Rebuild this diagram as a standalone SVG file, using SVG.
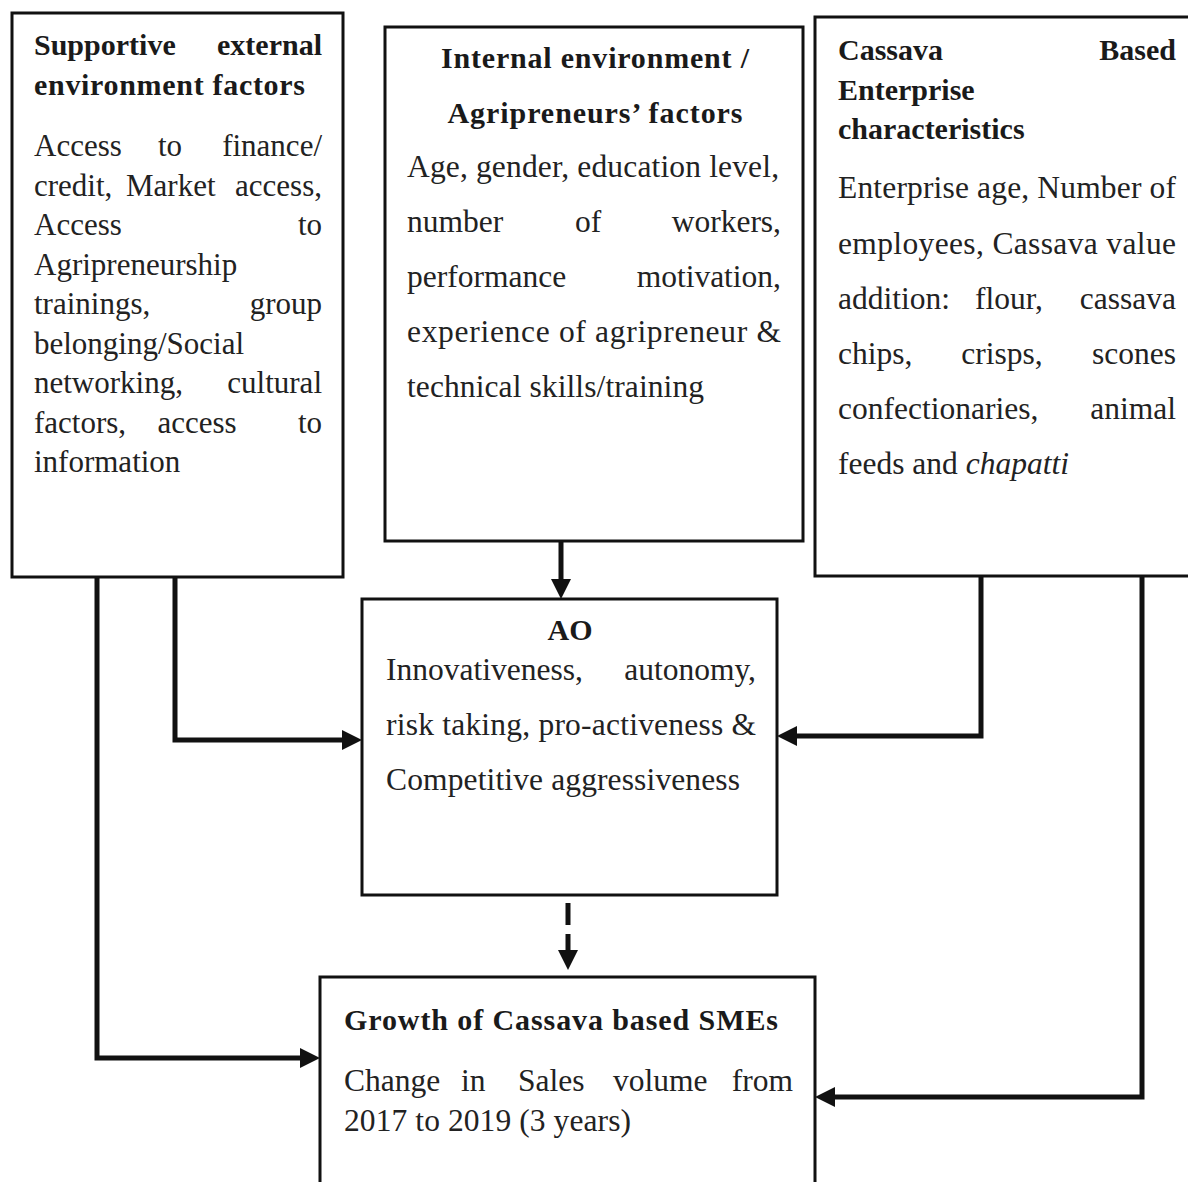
<svg xmlns="http://www.w3.org/2000/svg" width="1188" height="1182" viewBox="0 0 1188 1182">
<style>
.box{fill:#fff;stroke:#111;stroke-width:3}
.t{font-family:"Liberation Serif","Times New Roman",serif;font-size:31.5px;fill:#222}
.s{font-size:31px}
.h{font-family:"Liberation Serif","Times New Roman",serif;font-size:30px;font-weight:bold;fill:#1a1a1a}
.e{text-anchor:end}
.m{text-anchor:middle}
.c{fill:none;stroke:#111;stroke-width:5}
</style>
<defs>
<marker id="ah" viewBox="0 0 10 10" refX="5" refY="5" markerWidth="20" markerHeight="20" markerUnits="userSpaceOnUse" orient="auto">
<path d="M0,0 L10,5 L0,10 z" fill="#111"/>
</marker>
</defs>
<rect width="1188" height="1182" fill="#fff"/>

<g id="connectors">
<path class="c" d="M561,541 V589" marker-end="url(#ah)"/>
<path class="c" d="M175,577 V740 H352" marker-end="url(#ah)"/>
<path class="c" d="M97,577 V1058 H310" marker-end="url(#ah)"/>
<path class="c" d="M981,576 V736 H787" marker-end="url(#ah)"/>
<path class="c" d="M1142,576 V1097 H825" marker-end="url(#ah)"/>
<path class="c" d="M568,903 V925"/>
<path class="c" d="M568,934 V960" marker-end="url(#ah)"/>
</g>

<g id="node-supportive">
<rect class="box" x="12" y="13" width="331" height="564"/>
<text class="h" x="34" y="55">Supportive</text>
<text class="h e" x="322" y="55">external</text>
<text class="h" x="34" y="95" textLength="271" lengthAdjust="spacing">environment factors</text>
<text class="t s" x="34" y="156">Access</text><text class="t s m" x="170" y="156">to</text><text class="t s e" x="322" y="156">finance/</text>
<text class="t s" x="34" y="196">credit,</text><text class="t s" x="126" y="196">Market</text><text class="t s e" x="322" y="196">access,</text>
<text class="t s" x="34" y="235">Access</text><text class="t s e" x="322" y="235">to</text>
<text class="t s" x="34" y="275">Agripreneurship</text>
<text class="t s" x="34" y="314">trainings,</text><text class="t s e" x="322" y="314">group</text>
<text class="t s" x="34" y="354">belonging/Social</text>
<text class="t s" x="34" y="393">networking,</text><text class="t s e" x="322" y="393">cultural</text>
<text class="t s" x="34" y="433">factors,</text><text class="t s m" x="197" y="433">access</text><text class="t s e" x="322" y="433">to</text>
<text class="t s" x="34" y="472">information</text>
</g>

<g id="node-internal">
<rect class="box" x="385" y="27" width="418" height="514"/>
<text class="h m" x="595" y="68" textLength="308" lengthAdjust="spacing">Internal environment /</text>
<text class="h m" x="595" y="123" textLength="295" lengthAdjust="spacing">Agripreneurs’ factors</text>
<text class="t" x="407" y="177" textLength="372" lengthAdjust="spacing">Age, gender, education level,</text>
<text class="t" x="407" y="232">number</text><text class="t m" x="588" y="232">of</text><text class="t e" x="781" y="232">workers,</text>
<text class="t" x="407" y="287">performance</text><text class="t e" x="781" y="287">motivation,</text>
<text class="t" x="407" y="342" textLength="374" lengthAdjust="spacing">experience of agripreneur &amp;</text>
<text class="t" x="407" y="397" textLength="297" lengthAdjust="spacing">technical skills/training</text>
</g>

<g id="node-cassava">
<rect class="box" x="815" y="17" width="380" height="559"/>
<text class="h" x="838" y="60">Cassava</text>
<text class="h e" x="1176" y="60">Based</text>
<text class="h" x="838" y="100">Enterprise</text>
<text class="h" x="838" y="139">characteristics</text>
<text class="t" x="838" y="198" textLength="338" lengthAdjust="spacing">Enterprise age, Number of</text>
<text class="t" x="838" y="254" textLength="338" lengthAdjust="spacing">employees, Cassava value</text>
<text class="t" x="838" y="309">addition:</text><text class="t m" x="1009" y="309">flour,</text><text class="t e" x="1176" y="309">cassava</text>
<text class="t" x="838" y="364">chips,</text><text class="t m" x="1002" y="364">crisps,</text><text class="t e" x="1176" y="364">scones</text>
<text class="t" x="838" y="419">confectionaries,</text><text class="t e" x="1176" y="419">animal</text>
<text class="t" x="838" y="474">feeds and <tspan font-style="italic">chapatti</tspan></text>
</g>

<g id="node-ao">
<rect class="box" x="362" y="599" width="415" height="296"/>
<text class="h m" x="570" y="640">AO</text>
<text class="t" x="386" y="680">Innovativeness,</text><text class="t e" x="756" y="680">autonomy,</text>
<text class="t" x="386" y="735" textLength="370" lengthAdjust="spacing">risk taking, pro-activeness &amp;</text>
<text class="t" x="386" y="790" textLength="354" lengthAdjust="spacing">Competitive aggressiveness</text>
</g>

<g id="node-growth">
<rect class="box" x="320" y="977" width="495" height="215"/>
<text class="h" x="344" y="1030" textLength="434" lengthAdjust="spacing">Growth of Cassava based SMEs</text>
<text class="t" x="344" y="1091">Change</text><text class="t" x="461" y="1091">in</text><text class="t" x="518" y="1091">Sales</text><text class="t" x="613" y="1091">volume</text><text class="t e" x="793" y="1091">from</text>
<text class="t" x="344" y="1131" textLength="287" lengthAdjust="spacing">2017 to 2019 (3 years)</text>
</g>
</svg>
